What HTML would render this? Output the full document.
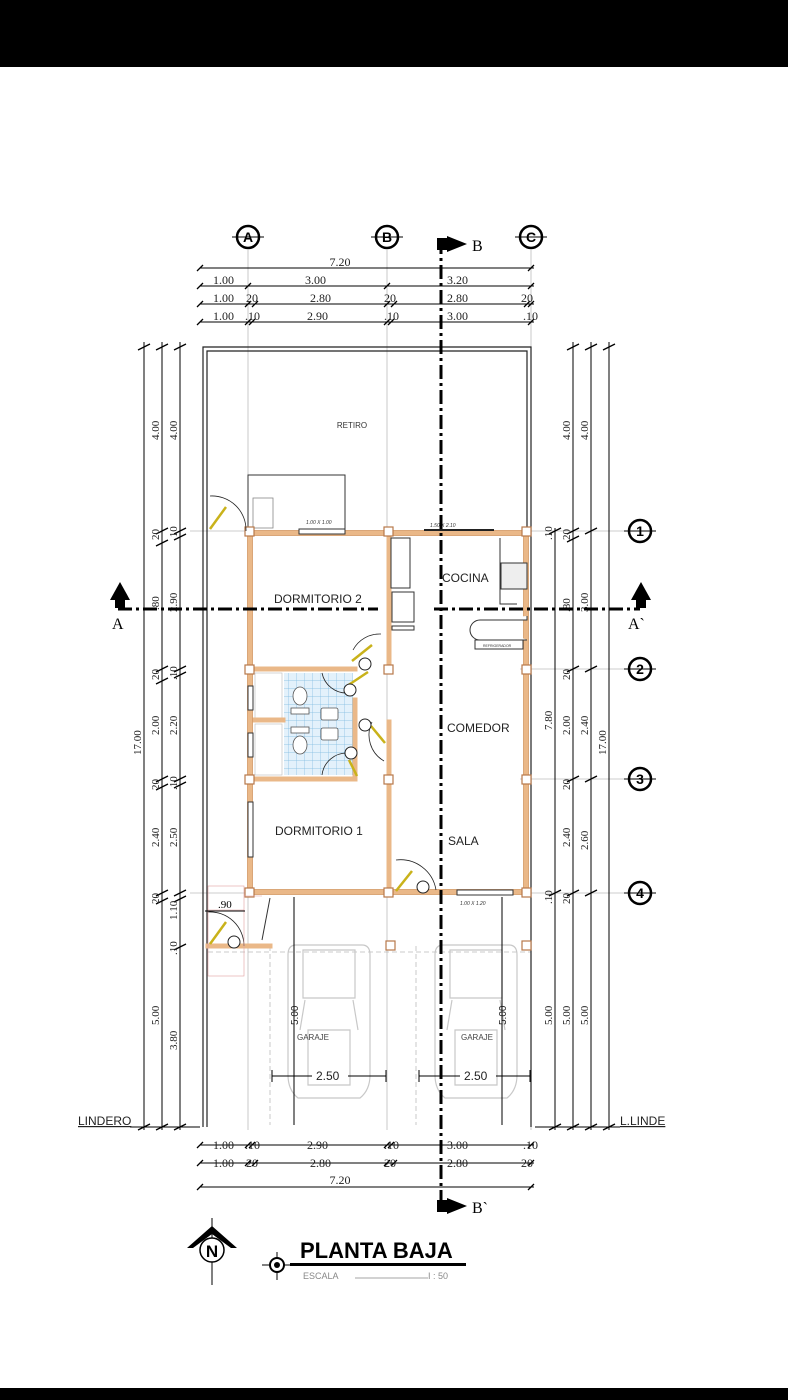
<!DOCTYPE html>
<html><head><meta charset="utf-8"><style>
html,body{margin:0;padding:0;background:#fff;}
svg{display:block;font-family:"Liberation Sans",sans-serif;}
.s{font-family:"Liberation Serif",serif;}
</style></head><body>
<svg width="788" height="1400" viewBox="0 0 788 1400" xmlns="http://www.w3.org/2000/svg">
<rect x="0" y="0" width="788" height="67" fill="#000"/>
<rect x="0" y="1388" width="788" height="12" fill="#000"/>

<!-- grid lines light -->
<g stroke="#bbb" stroke-width="0.8">
<line x1="248" y1="250" x2="248" y2="1130"/>
<line x1="387" y1="250" x2="387" y2="1130"/>
<line x1="531" y1="250" x2="531" y2="1130"/>
<line x1="190" y1="531" x2="628" y2="531"/>
<line x1="520" y1="669" x2="628" y2="669"/>
<line x1="520" y1="779" x2="628" y2="779"/>
<line x1="190" y1="893" x2="628" y2="893"/>
</g>
<g stroke="#bbb" stroke-width="0.8" stroke-dasharray="5,3" fill="none">
<line x1="270" y1="946" x2="270" y2="1125"/>
<line x1="416" y1="946" x2="416" y2="1125"/>
<line x1="208" y1="952" x2="531" y2="952"/>
</g>

<!-- grid bubbles -->
<g stroke="#000" stroke-width="2.5" fill="#fff">
<circle cx="248" cy="237" r="11"/><circle cx="387" cy="237" r="11"/><circle cx="531" cy="237" r="11"/>
<circle cx="640" cy="531" r="11"/><circle cx="640" cy="669" r="11"/><circle cx="640" cy="779" r="11"/><circle cx="640" cy="893" r="11"/>
</g>
<g stroke="#000" stroke-width="1">
<line x1="232" y1="237" x2="264" y2="237"/><line x1="371" y1="237" x2="403" y2="237"/><line x1="515" y1="237" x2="547" y2="237"/>
<line x1="624" y1="531" x2="656" y2="531"/><line x1="624" y1="669" x2="656" y2="669"/><line x1="624" y1="779" x2="656" y2="779"/><line x1="624" y1="893" x2="656" y2="893"/>
</g>
<g font-weight="bold" font-size="14" text-anchor="middle">
<text x="248" y="242">A</text><text x="387" y="242">B</text><text x="531" y="242">C</text>
<text x="640" y="536">1</text><text x="640" y="674">2</text><text x="640" y="784">3</text><text x="640" y="898">4</text>
</g>

<!-- top dims -->
<g stroke="#000" stroke-width="1">
<line x1="200" y1="268" x2="534" y2="268"/>
<line x1="200" y1="286" x2="534" y2="286"/>
<line x1="200" y1="304" x2="534" y2="304"/>
<line x1="200" y1="322" x2="534" y2="322"/>
<line x1="200" y1="1145" x2="534" y2="1145"/>
<line x1="200" y1="1163" x2="534" y2="1163"/>
<line x1="200" y1="1187" x2="534" y2="1187"/>
</g>
<g stroke="#000" stroke-width="1.3">
<path d="M197 271l6-6M528 271l6-6M197 289l6-6M245 289l6-6M384 289l6-6M528 289l6-6M197 307l6-6M245 307l6-6M252 307l6-6M384 307l6-6M391 307l6-6M524 307l6-6M528 307l6-6M197 325l6-6M245 325l6-6M249 325l6-6M384 325l6-6M388 325l6-6M528 325l6-6"/>
<path d="M197 1148l6-6M245 1148l6-6M249 1148l6-6M384 1148l6-6M388 1148l6-6M528 1148l6-6M197 1166l6-6M245 1166l6-6M252 1166l6-6M384 1166l6-6M391 1166l6-6M528 1166l6-6M197 1190l6-6M528 1190l6-6"/>
</g>
<g class="s" font-size="12" fill="#222">
<text x="340" y="266" text-anchor="middle">7.20</text>
<text x="213" y="284">1.00</text><text x="305" y="284">3.00</text><text x="447" y="284">3.20</text>
<text x="213" y="302">1.00</text><text x="246" y="302">20</text><text x="310" y="302">2.80</text><text x="384" y="302">20</text><text x="447" y="302">2.80</text><text x="521" y="302">20</text>
<text x="213" y="320">1.00</text><text x="245" y="320">.10</text><text x="307" y="320">2.90</text><text x="384" y="320">.10</text><text x="447" y="320">3.00</text><text x="523" y="320">.10</text>
<text x="213" y="1149">1.00</text><text x="245" y="1149">.10</text><text x="307" y="1149">2.90</text><text x="384" y="1149">.10</text><text x="447" y="1149">3.00</text><text x="523" y="1149">.10</text>
<text x="213" y="1167">1.00</text><text x="246" y="1167">20</text><text x="310" y="1167">2.80</text><text x="384" y="1167">20</text><text x="447" y="1167">2.80</text><text x="521" y="1167">20</text>
<text x="340" y="1184" text-anchor="middle">7.20</text>
</g>

<!-- left / right vertical dims -->
<g stroke="#000" stroke-width="1">
<line x1="144" y1="342" x2="144" y2="1130"/><line x1="162" y1="342" x2="162" y2="1130"/><line x1="180" y1="342" x2="180" y2="1130"/>
<line x1="555" y1="528" x2="555" y2="1130"/><line x1="573" y1="342" x2="573" y2="1130"/><line x1="591" y1="342" x2="591" y2="1130"/><line x1="609" y1="342" x2="609" y2="1130"/>
<line x1="130" y1="1127" x2="200" y2="1127"/><line x1="535" y1="1127" x2="620" y2="1127"/>
</g>
<g stroke="#000" stroke-width="1.3">
<path d="M138 350l12-6M156 350l12-6M174 350l12-6M138 1130l12-6M156 1130l12-6M174 1130l12-6M567 350l12-6M585 350l12-6M603 350l12-6M567 1130l12-6M585 1130l12-6M603 1130l12-6M549 1130l12-6"/>
<path d="M156 534l12-6M156 546l12-6M174 534l12-6M174 540l12-6M156 672l12-6M156 684l12-6M174 672l12-6M174 678l12-6M156 782l12-6M156 790l12-6M174 782l12-6M174 788l12-6M156 896l12-6M156 904l12-6M174 896l12-6M174 902l12-6M174 950l12-6"/>
<path d="M549 534l12-6M567 534l12-6M567 542l12-6M585 534l12-6M567 672l12-6M585 672l12-6M567 782l12-6M585 782l12-6M549 896l12-6M567 896l12-6M585 896l12-6"/>
</g>
<g class="s" font-size="11" fill="#222">
<text transform="translate(159,440) rotate(-90)">4.00</text><text transform="translate(177,440) rotate(-90)">4.00</text>
<text transform="translate(159,540) rotate(-90)">20</text><text transform="translate(177,540) rotate(-90)">.10</text>
<text transform="translate(159,610) rotate(-90)">.80</text><text transform="translate(177,612) rotate(-90)">2.90</text>
<text transform="translate(159,680) rotate(-90)">20</text><text transform="translate(177,680) rotate(-90)">.10</text>
<text transform="translate(159,735) rotate(-90)">2.00</text><text transform="translate(177,735) rotate(-90)">2.20</text>
<text transform="translate(159,790) rotate(-90)">20</text><text transform="translate(177,790) rotate(-90)">.10</text>
<text transform="translate(159,847) rotate(-90)">2.40</text><text transform="translate(177,847) rotate(-90)">2.50</text>
<text transform="translate(159,904) rotate(-90)">20</text><text transform="translate(177,920) rotate(-90)">1.10</text>
<text transform="translate(177,955) rotate(-90)">.10</text>
<text transform="translate(159,1025) rotate(-90)">5.00</text><text transform="translate(177,1050) rotate(-90)">3.80</text>
<text transform="translate(141,755) rotate(-90)">17.00</text>
<text transform="translate(570,440) rotate(-90)">4.00</text><text transform="translate(588,440) rotate(-90)">4.00</text>
<text transform="translate(552,540) rotate(-90)">.10</text><text transform="translate(570,540) rotate(-90)">20</text>
<text transform="translate(570,612) rotate(-90)">.80</text><text transform="translate(588,612) rotate(-90)">3.00</text>
<text transform="translate(570,680) rotate(-90)">20</text>
<text transform="translate(552,730) rotate(-90)">7.80</text><text transform="translate(570,735) rotate(-90)">2.00</text><text transform="translate(588,735) rotate(-90)">2.40</text>
<text transform="translate(570,790) rotate(-90)">20</text>
<text transform="translate(570,847) rotate(-90)">2.40</text><text transform="translate(588,850) rotate(-90)">2.60</text>
<text transform="translate(606,755) rotate(-90)">17.00</text>
<text transform="translate(552,904) rotate(-90)">.10</text><text transform="translate(570,904) rotate(-90)">20</text>
<text transform="translate(552,1025) rotate(-90)">5.00</text><text transform="translate(570,1025) rotate(-90)">5.00</text><text transform="translate(588,1025) rotate(-90)">5.00</text>
</g>
<text x="78" y="1125" font-size="12" fill="#222" text-decoration="underline">LINDERO</text>
<text x="620" y="1125" font-size="12" fill="#222" text-decoration="underline">L.LINDE</text>

<!-- lot boundary -->
<g stroke="#222" fill="none" stroke-width="1.2">
<path d="M203 1127V347H531V1127"/>
<path d="M207 1127V351H527V531"/>
</g>
<text x="352" y="428" font-size="8" text-anchor="middle" fill="#333">RETIRO</text>
<!-- retiro box -->
<rect x="248" y="475" width="97" height="56" fill="none" stroke="#333" stroke-width="1"/>
<rect x="253" y="498" width="20" height="30" fill="none" stroke="#888" stroke-width="0.8"/>

<!-- bathroom tiles -->
<defs><pattern id="tile" width="8" height="8" patternUnits="userSpaceOnUse"><rect width="8" height="8" fill="#e3f1fb"/><path d="M0 0H8M0 0V8" stroke="#7db9e0" stroke-width="0.7"/></pattern></defs>
<rect x="284" y="673" width="69" height="102" fill="url(#tile)"/>
<g fill="#fff" stroke="#555" stroke-width="0.8">
<ellipse cx="300" cy="696" rx="7" ry="9"/><rect x="291" y="708" width="18" height="6"/>
<rect x="291" y="727" width="18" height="6"/><ellipse cx="300" cy="745" rx="7" ry="9"/>
<rect x="321" y="708" width="17" height="12" rx="2"/><rect x="321" y="728" width="17" height="12" rx="2"/>
</g>
<g stroke="#bbb" stroke-width="0.6" fill="none"><rect x="255" y="673" width="27" height="47"/><rect x="255" y="724" width="27" height="51"/></g>

<!-- walls -->
<g stroke="#eab888" stroke-width="5" fill="none" stroke-linecap="square">
<rect x="250" y="533" width="276" height="359"/>
<line x1="389" y1="533" x2="389" y2="669"/>
<line x1="389" y1="722" x2="389" y2="892"/>
<line x1="250" y1="669" x2="355" y2="669"/>
<line x1="250" y1="720" x2="283" y2="720"/>
<line x1="250" y1="779" x2="355" y2="779"/>
<line x1="355" y1="700" x2="355" y2="779"/>
<line x1="208" y1="946" x2="270" y2="946"/>
</g>
<g stroke="#d49a66" stroke-width="0.8" fill="none">
<rect x="247.5" y="530.5" width="281" height="364"/>
<rect x="252.5" y="535.5" width="271" height="354"/>
</g>
<!-- columns -->
<g fill="#fff" stroke="#b7784a" stroke-width="1.2">
<rect x="245" y="527" width="9" height="9"/><rect x="384" y="527" width="9" height="9"/><rect x="522" y="527" width="9" height="9"/>
<rect x="245" y="665" width="9" height="9"/><rect x="384" y="665" width="9" height="9"/><rect x="522" y="665" width="9" height="9"/>
<rect x="245" y="775" width="9" height="9"/><rect x="384" y="775" width="9" height="9"/><rect x="522" y="775" width="9" height="9"/>
<rect x="245" y="888" width="9" height="9"/><rect x="384" y="888" width="9" height="9"/><rect x="522" y="888" width="9" height="9"/>
<rect x="386" y="941" width="9" height="9"/><rect x="522" y="941" width="9" height="9"/>
</g>
<!-- windows -->
<g fill="#fff" stroke="#333" stroke-width="1">
<rect x="299" y="529" width="46" height="5"/><rect x="457" y="890" width="56" height="5"/>
<rect x="248" y="686" width="5" height="24"/><rect x="248" y="733" width="5" height="24"/><rect x="248" y="802" width="5" height="55"/>
</g>
<line x1="424" y1="530" x2="494" y2="530" stroke="#222" stroke-width="2"/>
<g font-size="5" fill="#333" font-style="italic">
<text x="306" y="524">1.00 X 1.00</text><text x="430" y="527">1.50 X 2.10</text><text x="460" y="905">1.00 X 1.20</text>
</g>

<!-- kitchen -->
<g fill="#fff" stroke="#333" stroke-width="1">
<rect x="391" y="538" width="19" height="50"/>
<rect x="392" y="592" width="22" height="30"/>
<rect x="392" y="626" width="22" height="4"/>
<path d="M500 538V604H517"/>
<rect x="501" y="563" width="26" height="26" fill="#eee"/>
<path d="M480 620h47v-4 M480 620a10 10 0 0 0 0 20h47"/>
<rect x="475" y="640" width="48" height="9"/>
</g>
<text x="483" y="647" font-size="3.5" fill="#333">REFRIGERADOR</text>

<!-- doors -->
<g stroke="#c9b21a" stroke-width="2.5">
<line x1="210" y1="529" x2="226" y2="507"/>
<line x1="352" y1="661" x2="372" y2="645"/>
<line x1="347" y1="686" x2="368" y2="672"/>
<line x1="371" y1="726" x2="385" y2="743"/>
<line x1="349" y1="760" x2="357" y2="776"/>
<line x1="396" y1="891" x2="412" y2="871"/>
<line x1="210" y1="944" x2="226" y2="922"/>
</g>
<g stroke="#222" stroke-width="0.8" fill="none">
<path d="M210 496a34 34 0 0 1 36 35"/>
<path d="M353 650a30 30 0 0 1 28 -16"/>
<path d="M322 673a25 25 0 0 0 26 20"/>
<path d="M372 722a30 30 0 0 0 12 39"/>
<path d="M322 775a25 25 0 0 1 26 -22"/>
<path d="M396 860a36 36 0 0 1 40 30"/>
<path d="M208 912a34 34 0 0 1 36 34"/>
</g>
<g fill="#fff" stroke="#222" stroke-width="1">
<circle cx="365" cy="664" r="6"/><circle cx="350" cy="690" r="6"/><circle cx="365" cy="725" r="6"/><circle cx="351" cy="753" r="6"/><circle cx="423" cy="887" r="6"/><circle cx="234" cy="942" r="6"/>
</g>

<!-- entrance steps -->
<g stroke="#e0a0a0" stroke-width="0.6" fill="none">
<rect x="208" y="886" width="36" height="90"/><line x1="208" y1="910" x2="244" y2="910"/><line x1="244" y1="896" x2="262" y2="896"/>
</g>
<line x1="205" y1="911" x2="245" y2="911" stroke="#000" stroke-width="1"/>
<text x="218" y="908" class="s" font-size="11">.90</text>
<line x1="270" y1="898" x2="262" y2="940" stroke="#333" stroke-width="1"/>

<!-- room labels -->
<g font-size="12" fill="#222">
<text x="274" y="603">DORMITORIO 2</text>
<text x="442" y="582">COCINA</text>
<text x="447" y="732">COMEDOR</text>
<text x="275" y="835">DORMITORIO 1</text>
<text x="448" y="845">SALA</text>
</g>

<!-- cars -->
<g stroke="#c8c8c8" stroke-width="1.2" fill="none">
<path d="M296 945h66q8 0 8 10v120q0 15 -10 23h-62q-10 -8 -10 -23v-120q0 -10 8 -10z"/>
<path d="M303 950h52v48h-52z M305 1000l-5 30M353 1000l5 30 M308 1030h42v55h-42z"/>
<path d="M443 945h66q8 0 8 10v120q0 15 -10 23h-62q-10 -8 -10 -23v-120q0 -10 8 -10z"/>
<path d="M450 950h52v48h-52z M452 1000l-5 30M500 1000l5 30 M455 1030h42v55h-42z"/>
</g>
<g stroke="#000" stroke-width="1">
<line x1="294" y1="897" x2="294" y2="1125"/><line x1="502" y1="897" x2="502" y2="1125"/>
<line x1="272" y1="1076" x2="386" y2="1076"/><line x1="419" y1="1076" x2="530" y2="1076"/>
<line x1="272" y1="1070" x2="272" y2="1082"/><line x1="386" y1="1070" x2="386" y2="1082"/><line x1="419" y1="1070" x2="419" y2="1082"/><line x1="530" y1="1070" x2="530" y2="1082"/>
</g>
<g font-size="12" fill="#222">
<rect x="312" y="1068" width="36" height="14" fill="#fff"/><text x="316" y="1080">2.50</text>
<rect x="460" y="1068" width="36" height="14" fill="#fff"/><text x="464" y="1080">2.50</text>
<text transform="translate(298,1025) rotate(-90)" font-size="10">5.00</text>
<text transform="translate(506,1025) rotate(-90)" font-size="10">5.00</text>
</g>
<g font-size="8" fill="#444"><text x="297" y="1040">GARAJE</text><text x="461" y="1040">GARAJE</text></g>

<!-- section lines -->
<g stroke="#000" stroke-width="3" stroke-dasharray="14,4,3,4" fill="none">
<line x1="441" y1="240" x2="441" y2="1205"/>
<line x1="118" y1="609" x2="378" y2="609"/>
<line x1="434" y1="609" x2="640" y2="609"/>
</g>
<g fill="#000">
<rect x="437" y="238" width="10" height="12"/><path d="M447 236l20 8l-20 8z"/>
<rect x="437" y="1200" width="10" height="12"/><path d="M447 1198l20 8l-20 8z"/>
<path d="M110 600l10-18l10 18z"/><rect x="115" y="598" width="10" height="10"/>
<path d="M631 600l10-18l10 18z"/><rect x="636" y="598" width="10" height="10"/>
</g>
<g class="s" font-size="16"><text x="472" y="251">B</text><text x="472" y="1213">B`</text><text x="112" y="629">A</text><text x="628" y="629">A`</text></g>

<!-- north & title -->
<line x1="212" y1="1218" x2="212" y2="1285" stroke="#000" stroke-width="1"/>
<path d="M187 1248l25-22l25 22h-6l-19-14l-19 14z" fill="#000"/>
<circle cx="212" cy="1250" r="12" fill="#fff" stroke="#000" stroke-width="1.5"/>
<text x="212" y="1257" font-size="17" font-weight="bold" text-anchor="middle">N</text>
<line x1="262" y1="1265" x2="292" y2="1265" stroke="#000" stroke-width="1"/>
<line x1="277" y1="1252" x2="277" y2="1280" stroke="#000" stroke-width="1"/>
<circle cx="277" cy="1265" r="7" fill="#fff" stroke="#000" stroke-width="2"/><circle cx="277" cy="1265" r="3" fill="#000"/>
<text x="300" y="1258" font-size="22" font-weight="bold">PLANTA BAJA</text>
<rect x="290" y="1263" width="176" height="3" fill="#000"/>
<text x="303" y="1279" font-size="9" fill="#888">ESCALA</text>
<line x1="355" y1="1278" x2="428" y2="1278" stroke="#888" stroke-width="0.7"/>
<text x="428" y="1279" font-size="9" fill="#888">I : 50</text>
</svg>
</body></html>
